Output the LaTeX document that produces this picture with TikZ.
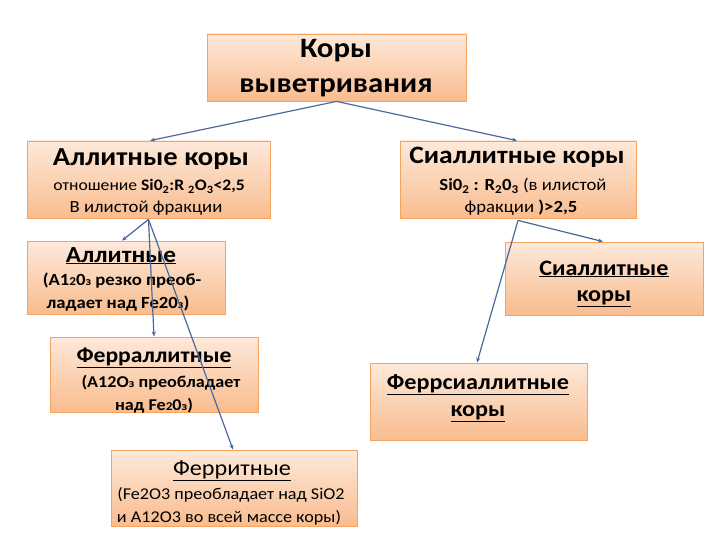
\documentclass[tikz,border=0pt]{standalone}
\usepackage{fontspec}
\setmainfont{Carlito}[FakeStretch=1.1]
\usetikzlibrary{arrows.meta}
\definecolor{boxtop}{HTML}{FDE9DA}
\definecolor{boxbot}{HTML}{F9BC8E}
\definecolor{boxline}{HTML}{F4A460}
\definecolor{arr}{HTML}{4A6A9E}
\newcommand{\fsz}[1]{\fontsize{#1}{#1}\selectfont}
\newcommand{\ul}[1]{\underline{#1}}
\begin{document}
\begin{tikzpicture}[x=1pt,y=-1pt,
  boxstyle/.style={draw=boxline,line width=0.8pt,top color=boxtop,bottom color=boxbot,
    rectangle,inner sep=0pt},
  lbl/.style={anchor=base,inner sep=0pt,text=black},
  conn/.style={draw=arr,line width=1.2pt,-{Stealth[length=5pt,width=4pt]}}]
\useasboundingbox (0,0) rectangle (720,540);
\fill[white] (0,0) rectangle (720,540);

% boxes
\node[boxstyle,minimum width=259pt,minimum height=67pt] (top) at (336.5,67.5) {};
\node[boxstyle,minimum width=243pt,minimum height=77pt] (ak) at (148.5,179.5) {};
\node[boxstyle,minimum width=236pt,minimum height=77pt] (sk) at (518,179.5) {};
\node[boxstyle,minimum width=198pt,minimum height=73pt] (al) at (126,277.5) {};
\node[boxstyle,minimum width=198pt,minimum height=73pt] (sr) at (604,278.5) {};
\node[boxstyle,minimum width=208pt,minimum height=75pt] (fa) at (154,374.5) {};
\node[boxstyle,minimum width=217pt,minimum height=77pt] (fs) at (478.5,401.5) {};
\node[boxstyle,minimum width=246pt,minimum height=76pt] (fe) at (234,488) {};

% texts
\node[lbl,font=\fsz{28}\bfseries] (t1) at (336,58) {Коры};
\node[lbl,font=\fsz{28}\bfseries] (t2) at (336,93) {выветривания};

\node[lbl,font=\fsz{26}\bfseries] (ak1) at (151,166) {Аллитные коры};
\node[lbl,font=\fsz{16}] (ak2) at (149,191) {отношение \textbf{Si0\textsubscript{2}:R \textsubscript{2}O\textsubscript{3}<2,5}};
\node[lbl,font=\fsz{17}] (ak3) at (146,212) {В илистой фракции};

\node[lbl,font=\fsz{25}\bfseries] (sk1) at (517,164) {Сиаллитные коры};
\node[lbl,font=\fsz{17}] (sk2) at (523,191) {\textbf{Si0\textsubscript{2} : R\textsubscript{2}0\textsubscript{3}} (в илистой};
\node[lbl,font=\fsz{17}] (sk3) at (521,213) {фракции \textbf{)>2,5}};

\node[lbl,font=\fsz{23}\bfseries] (al1) at (121,262) {\ul{Аллитные}};
\node[lbl,font=\fsz{17}\bfseries] (al2) at (122,285) {(A1{\fsz{12}2}0{\fsz{12}з} резко преоб-};
\node[lbl,font=\fsz{17}\bfseries] (al3) at (118,308) {ладает над Fe20{\fsz{12}з})};

\node[lbl,font=\fsz{22}\bfseries] (sr1) at (604,275) {\ul{Сиаллитные}};
\node[lbl,font=\fsz{22}\bfseries] (sr2) at (604,301) {\ul{коры}};

\node[lbl,font=\fsz{21.5}\bfseries] (fa1) at (154,362) {\ul{Ферраллитные}};
\node[lbl,font=\fsz{16.5}\bfseries] (fa2) at (161,387) {(A12O{\fsz{12}з} преобладает};
\node[lbl,font=\fsz{16.5}\bfseries] (fa3) at (154,410) {над Fe{\fsz{12}2}0{\fsz{12}з})};

\node[lbl,font=\fsz{22}] (fe1) at (232,475) {\ul{Ферритные}};
\node[lbl,font=\fsz{16.5}] (fe2) at (231,499) {(Fe2O3 преобладает над SiO2};
\node[lbl,font=\fsz{16.5}] (fe3) at (229,522) {и A12O3 во всей массе коры)};

\node[lbl,font=\fsz{22}\bfseries] (fs1) at (478,389) {\ul{Феррсиаллитные}};
\node[lbl,font=\fsz{22}\bfseries] (fs2) at (478,416) {\ul{коры}};

% connectors
\draw[conn] (top.south) -- ([xshift=1.5pt]ak.north);
\draw[conn] (top.south) -- ([xshift=-1pt]sk.north);
\draw[conn] ([yshift=-1pt]ak.south) -- ([xshift=-4pt]al.north);
\draw[conn] ([yshift=-1pt]ak.south) -- (fa.north);
\draw[conn] ([yshift=-1pt]ak.south) -- ([xshift=-1pt]fe.north);
\draw[conn] ([yshift=-2pt]sk.south) -- ([xshift=-1pt]sr.north);
\draw[conn] ([yshift=-2pt]sk.south) -- ([xshift=-1.5pt]fs.north);
\end{tikzpicture}
\end{document}
